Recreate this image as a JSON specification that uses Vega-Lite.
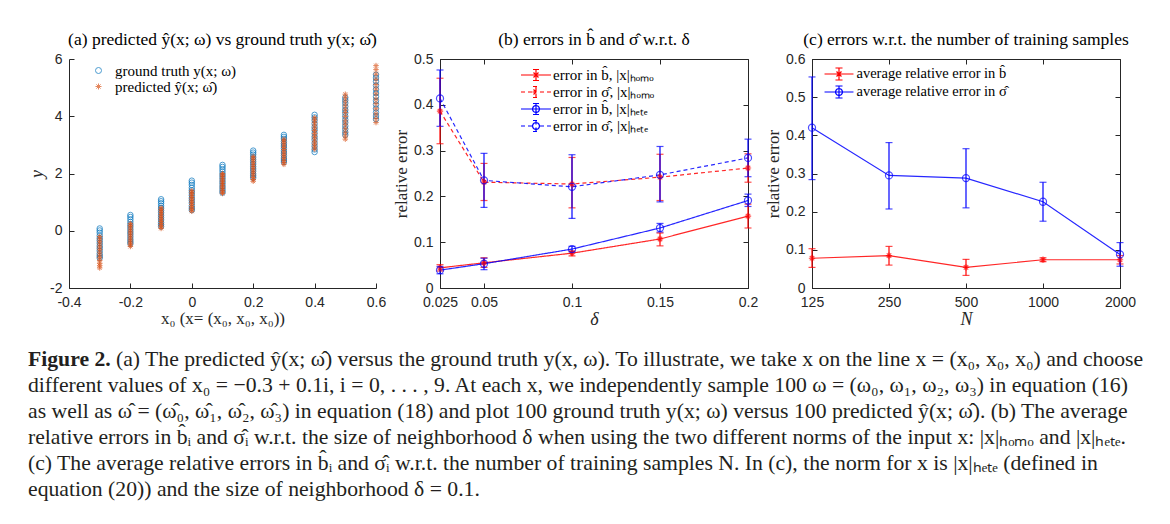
{
  "$schema": "https://vega.github.io/schema/vega-lite/v6.json",
  "background": "white",
  "padding": {"left": 28, "top": 30, "right": 5, "bottom": 0},
  "datasets": {
    "sc": [
      {"x": -0.3, "s": "g", "y": [0.08, 0.01, -0.07, -0.17, -0.26, -0.34, -0.43, -0.53, -0.61, -0.70, -0.80, -0.88, -0.95]},
      {"x": -0.2, "s": "g", "y": [0.55, 0.48, 0.40, 0.31, 0.22, 0.14, 0.05, -0.04, -0.12, -0.21, -0.30, -0.38, -0.45]},
      {"x": -0.1, "s": "g", "y": [1.10, 1.03, 0.96, 0.87, 0.79, 0.71, 0.63, 0.54, 0.46, 0.38, 0.29, 0.22, 0.15]},
      {"x": 0, "s": "g", "y": [1.75, 1.68, 1.60, 1.50, 1.41, 1.33, 1.24, 1.14, 1.06, 0.97, 0.87, 0.79, 0.72]},
      {"x": 0.1, "s": "g", "y": [2.30, 2.23, 2.15, 2.07, 1.98, 1.90, 1.82, 1.73, 1.65, 1.56, 1.48, 1.40, 1.33]},
      {"x": 0.2, "s": "g", "y": [2.80, 2.73, 2.66, 2.57, 2.49, 2.41, 2.33, 2.24, 2.16, 2.08, 1.99, 1.92, 1.85]},
      {"x": 0.3, "s": "g", "y": [3.35, 3.28, 3.21, 3.12, 3.04, 2.96, 2.88, 2.79, 2.71, 2.63, 2.54, 2.47, 2.40]},
      {"x": 0.4, "s": "g", "y": [4.05, 3.96, 3.86, 3.74, 3.62, 3.52, 3.40, 3.28, 3.18, 3.06, 2.95, 2.84, 2.75]},
      {"x": 0.5, "s": "g", "y": [4.65, 4.56, 4.46, 4.34, 4.22, 4.12, 4.00, 3.88, 3.78, 3.66, 3.55, 3.44, 3.35]},
      {"x": 0.6, "s": "g", "y": [5.45, 5.34, 5.22, 5.08, 4.94, 4.81, 4.68, 4.54, 4.41, 4.27, 4.13, 4.01, 3.90]},
      {"x": -0.3, "s": "p", "y": [-0.20, -0.28, -0.37, -0.46, -0.56, -0.65, -0.75, -0.85, -0.94, -1.04, -1.14, -1.22, -1.30]},
      {"x": -0.2, "s": "p", "y": [0.25, 0.19, 0.13, 0.06, -0.01, -0.08, -0.15, -0.22, -0.29, -0.36, -0.43, -0.49, -0.55]},
      {"x": -0.1, "s": "p", "y": [0.80, 0.75, 0.69, 0.63, 0.56, 0.51, 0.44, 0.38, 0.32, 0.25, 0.19, 0.13, 0.08]},
      {"x": 0, "s": "p", "y": [1.40, 1.35, 1.29, 1.23, 1.16, 1.11, 1.04, 0.98, 0.92, 0.85, 0.79, 0.73, 0.68]},
      {"x": 0.1, "s": "p", "y": [2.00, 1.95, 1.90, 1.83, 1.77, 1.71, 1.65, 1.59, 1.53, 1.47, 1.41, 1.35, 1.30]},
      {"x": 0.2, "s": "p", "y": [2.60, 2.54, 2.47, 2.39, 2.31, 2.24, 2.17, 2.09, 2.02, 1.94, 1.86, 1.79, 1.73]},
      {"x": 0.3, "s": "p", "y": [3.20, 3.14, 3.07, 2.99, 2.91, 2.84, 2.76, 2.68, 2.61, 2.53, 2.45, 2.38, 2.32]},
      {"x": 0.4, "s": "p", "y": [3.95, 3.87, 3.79, 3.69, 3.59, 3.50, 3.40, 3.30, 3.21, 3.11, 3.02, 2.93, 2.85]},
      {"x": 0.5, "s": "p", "y": [4.77, 4.66, 4.53, 4.39, 4.25, 4.13, 3.99, 3.84, 3.72, 3.58, 3.44, 3.31, 3.20]},
      {"x": 0.6, "s": "p", "y": [5.77, 5.63, 5.47, 5.29, 5.11, 4.95, 4.78, 4.60, 4.44, 4.26, 4.08, 3.92, 3.78]}
    ],
    "pb": [
      {"d": 0.025, "s": "bh", "m": 0.044, "lo": 0.037, "hi": 0.051},
      {"d": 0.05, "s": "bh", "m": 0.055, "lo": 0.045, "hi": 0.066},
      {"d": 0.1, "s": "bh", "m": 0.076, "lo": 0.070, "hi": 0.081},
      {"d": 0.15, "s": "bh", "m": 0.107, "lo": 0.092, "hi": 0.120},
      {"d": 0.2, "s": "bh", "m": 0.157, "lo": 0.131, "hi": 0.183},
      {"d": 0.025, "s": "sh", "m": 0.386, "lo": 0.315, "hi": 0.458},
      {"d": 0.05, "s": "sh", "m": 0.231, "lo": 0.191, "hi": 0.272},
      {"d": 0.1, "s": "sh", "m": 0.227, "lo": 0.175, "hi": 0.285},
      {"d": 0.15, "s": "sh", "m": 0.242, "lo": 0.191, "hi": 0.292},
      {"d": 0.2, "s": "sh", "m": 0.262, "lo": 0.231, "hi": 0.293},
      {"d": 0.025, "s": "bt", "m": 0.039, "lo": 0.031, "hi": 0.047},
      {"d": 0.05, "s": "bt", "m": 0.053, "lo": 0.040, "hi": 0.065},
      {"d": 0.1, "s": "bt", "m": 0.085, "lo": 0.079, "hi": 0.091},
      {"d": 0.15, "s": "bt", "m": 0.131, "lo": 0.122, "hi": 0.141},
      {"d": 0.2, "s": "bt", "m": 0.191, "lo": 0.178, "hi": 0.205},
      {"d": 0.025, "s": "st", "m": 0.414, "lo": 0.353, "hi": 0.476},
      {"d": 0.05, "s": "st", "m": 0.235, "lo": 0.176, "hi": 0.294},
      {"d": 0.1, "s": "st", "m": 0.221, "lo": 0.152, "hi": 0.291},
      {"d": 0.15, "s": "st", "m": 0.247, "lo": 0.188, "hi": 0.309},
      {"d": 0.2, "s": "st", "m": 0.284, "lo": 0.243, "hi": 0.325}
    ],
    "pc": [
      {"n": 125, "s": "b", "m": 0.078, "lo": 0.054, "hi": 0.103},
      {"n": 250, "s": "b", "m": 0.085, "lo": 0.060, "hi": 0.109},
      {"n": 500, "s": "b", "m": 0.054, "lo": 0.033, "hi": 0.075},
      {"n": 1000, "s": "b", "m": 0.074, "lo": 0.069, "hi": 0.079},
      {"n": 2000, "s": "b", "m": 0.074, "lo": 0.063, "hi": 0.085},
      {"n": 125, "s": "g", "m": 0.420, "lo": 0.284, "hi": 0.553},
      {"n": 250, "s": "g", "m": 0.295, "lo": 0.207, "hi": 0.381},
      {"n": 500, "s": "g", "m": 0.288, "lo": 0.210, "hi": 0.365},
      {"n": 1000, "s": "g", "m": 0.226, "lo": 0.175, "hi": 0.277},
      {"n": 2000, "s": "g", "m": 0.088, "lo": 0.057, "hi": 0.119}
    ],
    "cap": [
      {"line": 1, "t": "(a) The predicted ŷ(x; ω̂) versus the ground truth y(x, ω). To illustrate, we take x on the line x = (x₀, x₀, x₀) and choose"},
      {"line": 2, "t": "different values of x₀ = −0.3 + 0.1i, i = 0, . . . , 9. At each x, we independently sample 100 ω = (ω₀, ω₁, ω₂, ω₃) in equation (16)"},
      {"line": 3, "t": "as well as ω̂ = (ω̂₀, ω̂₁, ω̂₂, ω̂₃) in equation (18) and plot 100 ground truth y(x; ω) versus 100 predicted ŷ(x; ω̂). (b) The average"},
      {"line": 4, "t": "relative errors in b̂ᵢ and σ̂ᵢ w.r.t. the size of neighborhood δ when using the two different norms of the input x: |x|ₕₒₘₒ and |x|ₕₑₜₑ."},
      {"line": 5, "t": "(c) The average relative errors in b̂ᵢ and σ̂ᵢ w.r.t. the number of training samples N. In (c), the norm for x is |x|ₕₑₜₑ (defined in"},
      {"line": 6, "t": "equation (20)) and the size of neighborhood δ = 0.1."}
    ]
  },
  "vconcat": [
    {
      "hconcat": [
        {
          "width": 307,
          "height": 229,
          "title": "(a) predicted ŷ(x; ω) vs ground truth y(x; ω̂)",
          "view": {"stroke": null},
          "data": {"name": "sc"},
          "transform": [{"flatten": ["y"]}],
          "mark": {"type": "point", "filled": false, "size": 30, "strokeWidth": 1},
          "encoding": {
            "x": {"field": "x", "type": "quantitative", "scale": {"domain": [-0.4, 0.6], "nice": false, "zero": false},
                  "axis": {"values": [-0.4, -0.2, 0, 0.2, 0.4, 0.6], "format": "~g", "title": "x₀ (x= (x₀, x₀, x₀))"}},
            "y": {"field": "y", "type": "quantitative", "scale": {"domain": [-2, 6], "nice": false, "zero": false},
                  "axis": {"values": [-2, 0, 2, 4, 6], "format": "~g", "title": "y", "titleFontStyle": "italic", "titleFontSize": 18}},
            "color": {"field": "s", "type": "nominal", "scale": {"domain": ["g", "p"], "range": ["#0072BD", "#D95319"]},
                      "legend": {"title": null, "orient": "none", "legendX": 22, "legendY": 4, "padding": 0, "symbolSize": 36, "symbolStrokeWidth": 1,
                                 "labelFont": "Liberation Serif", "labelFontSize": 15, "labelColor": "#000", "labelOffset": 9, "rowPadding": 0,
                                 "labelExpr": "datum.label == 'g' ? 'ground truth y(x; ω)' : 'predicted ŷ(x; ω̂)'"}},
            "shape": {"field": "s", "type": "nominal", "scale": {"domain": ["g", "p"], "range": ["circle", "M-1,0L1,0M0,-1L0,1M-0.7,-0.7L0.7,0.7M-0.7,0.7L0.7,-0.7"]}}
          }
        },
        {
          "width": 308,
          "height": 229,
          "title": "(b) errors in b̂ and σ̂ w.r.t. δ",
          "data": {"name": "pb"},
          "layer": [
            {
              "mark": {"type": "point", "filled": false, "opacity": 0},
              "encoding": {
                "x": {"field": "d", "type": "quantitative", "title": "δ", "scale": {"domain": [0.025, 0.2], "nice": false, "zero": false},
                      "axis": {"orient": "top", "labels": false, "title": null, "domain": false, "values": [0.025, 0.05, 0.1, 0.15, 0.2]}},
                "y": {"field": "m", "type": "quantitative", "title": "relative error", "scale": {"domain": [0, 0.5], "nice": false},
                      "axis": {"orient": "right", "labels": false, "title": null, "domain": false, "values": [0, 0.1, 0.2, 0.3, 0.4, 0.5]}},
                "color": {"field": "s", "type": "nominal", "scale": {"domain": ["bh", "sh", "bt", "st"], "range": ["#ff0000", "#ff0000", "#0000ff", "#0000ff"]},
                           "legend": {"title": null, "orient": "none", "legendX": 87, "legendY": 7, "padding": 0, "symbolSize": 256, "symbolStrokeWidth": 1.2, "symbolOpacity": 1, "symbolFillColor": "transparent",
                                      "labelFont": "Liberation Serif", "labelFontSize": 15, "labelColor": "#000", "labelOffset": 8, "rowPadding": -6.2,
                                      "labelExpr": "datum.label == 'bh' ? 'error in b̂, |x|ₕₒₘₒ' : datum.label == 'sh' ? 'error in σ̂, |x|ₕₒₘₒ' : datum.label == 'bt' ? 'error in b̂, |x|ₕₑₜₑ' : 'error in σ̂, |x|ₕₑₜₑ'"}},
                "shape": {"field": "s", "type": "nominal",
                          "scale": {"domain": ["bh", "sh", "bt", "st"], "range": [
                            "M-1.875,0L1.875,0M0,-0.69L0,0.69M-0.375,-0.69L0.375,-0.69M-0.375,0.69L0.375,0.69M-0.44,0L0.44,0M0,-0.44L0,0.44M-0.31,-0.31L0.31,0.31M-0.31,0.31L0.31,-0.31",
                            "M-1.875,0L-1.375,0M-1,0L-0.5,0M0.5,0L1,0M1.375,0L1.875,0M0,-0.69L0,0.69M-0.375,-0.69L0.375,-0.69M-0.375,0.69L0.375,0.69M-0.44,0L0.44,0M0,-0.44L0,0.44M-0.31,-0.31L0.31,0.31M-0.31,0.31L0.31,-0.31",
                            "M-1.875,0L1.875,0M0,-0.69L0,0.69M-0.375,-0.69L0.375,-0.69M-0.375,0.69L0.375,0.69M0.44,0L0.381,0.22M0.381,0.22L0.22,0.381M0.22,0.381L0,0.44M0,0.44L-0.22,0.381M-0.22,0.381L-0.381,0.22M-0.381,0.22L-0.44,0M-0.44,0L-0.381,-0.22M-0.381,-0.22L-0.22,-0.381M-0.22,-0.381L0,-0.44M0,-0.44L0.22,-0.381M0.22,-0.381L0.381,-0.22M0.381,-0.22L0.44,0",
                            "M-1.875,0L-1.375,0M-1,0L-0.5,0M0.5,0L1,0M1.375,0L1.875,0M0,-0.69L0,0.69M-0.375,-0.69L0.375,-0.69M-0.375,0.69L0.375,0.69M0.44,0L0.381,0.22M0.381,0.22L0.22,0.381M0.22,0.381L0,0.44M0,0.44L-0.22,0.381M-0.22,0.381L-0.381,0.22M-0.381,0.22L-0.44,0M-0.44,0L-0.381,-0.22M-0.381,-0.22L-0.22,-0.381M-0.22,-0.381L0,-0.44M0,-0.44L0.22,-0.381M0.22,-0.381L0.381,-0.22M0.381,-0.22L0.44,0"
                          ]},
                          "legend": {"title": null, "orient": "none", "legendX": 87, "legendY": 7, "padding": 0, "symbolSize": 256, "symbolStrokeWidth": 1.2, "symbolOpacity": 1, "symbolFillColor": "transparent",
                                      "labelFont": "Liberation Serif", "labelFontSize": 15, "labelColor": "#000", "labelOffset": 8, "rowPadding": -6.2,
                                      "labelExpr": "datum.label == 'bh' ? 'error in b̂, |x|ₕₒₘₒ' : datum.label == 'sh' ? 'error in σ̂, |x|ₕₒₘₒ' : datum.label == 'bt' ? 'error in b̂, |x|ₕₑₜₑ' : 'error in σ̂, |x|ₕₑₜₑ'"}}
              }
            },
            {
              "mark": {"type": "line", "strokeWidth": 1.2, "opacity": 0.85},
              "encoding": {
                "x": {"field": "d", "type": "quantitative", "title": "δ",
                      "axis": {"values": [0.025, 0.05, 0.1, 0.15, 0.2], "format": "~g", "titleFontStyle": "italic", "titleFontSize": 18}},
                "y": {"field": "m", "type": "quantitative", "title": "relative error",
                      "axis": {"values": [0, 0.1, 0.2, 0.3, 0.4, 0.5], "format": "~g"}},
                "color": {"field": "s", "type": "nominal", "legend": null},
                "strokeDash": {"field": "s", "type": "nominal", "scale": {"domain": ["bh", "sh", "bt", "st"], "range": [[1, 0], [4, 3], [1, 0], [4, 3]]}, "legend": null}
              }
            },
            {
              "mark": {"type": "errorbar", "ticks": {"size": 7}, "thickness": 1.2},
              "encoding": {
                "x": {"field": "d", "type": "quantitative", "title": "δ", "axis": null},
                "y": {"field": "lo", "type": "quantitative", "title": "relative error", "axis": null},
                "y2": {"field": "hi"},
                "color": {"field": "s", "type": "nominal", "legend": null}
              }
            },
            {
              "transform": [{"filter": "datum.s == 'bh' || datum.s == 'sh'"}],
              "mark": {"type": "point", "shape": "M-1,0L1,0M0,-1L0,1M-0.7,-0.7L0.7,0.7M-0.7,0.7L0.7,-0.7", "filled": false, "size": 40, "color": "#ff0000", "strokeWidth": 1.2},
              "encoding": {
                "x": {"field": "d", "type": "quantitative", "title": "δ", "axis": null},
                "y": {"field": "m", "type": "quantitative", "title": "relative error", "axis": null}
              }
            },
            {
              "transform": [{"filter": "datum.s == 'bt' || datum.s == 'st'"}],
              "mark": {"type": "point", "shape": "circle", "filled": false, "size": 50, "color": "#0000ff", "strokeWidth": 1.2},
              "encoding": {
                "x": {"field": "d", "type": "quantitative", "title": "δ", "axis": null},
                "y": {"field": "m", "type": "quantitative", "title": "relative error", "axis": null}
              }
            }
          ],
          "resolve": {"axis": {"x": "independent", "y": "independent"}}
        },
        {
          "width": 308,
          "height": 229,
          "title": "(c) errors w.r.t. the number of training samples",
          "data": {"name": "pc"},
          "layer": [
            {
              "mark": {"type": "point", "filled": false, "opacity": 0},
              "encoding": {
                "x": {"field": "n", "type": "quantitative", "title": "N", "scale": {"type": "log", "base": 2, "domain": [125, 2000], "nice": false},
                      "axis": {"orient": "top", "labels": false, "title": null, "domain": false, "values": [125, 250, 500, 1000, 2000]}},
                "y": {"field": "m", "type": "quantitative", "title": "relative error", "scale": {"domain": [0, 0.6], "nice": false},
                      "axis": {"orient": "right", "labels": false, "title": null, "domain": false, "values": [0, 0.1, 0.2, 0.3, 0.4, 0.5, 0.6]}},
                "color": {"field": "s", "type": "nominal", "scale": {"domain": ["b", "g"], "range": ["#ff0000", "#0000ff"]},
                           "legend": {"title": null, "orient": "none", "legendX": 18, "legendY": 6, "padding": 0, "symbolSize": 256, "symbolStrokeWidth": 1.2, "symbolOpacity": 1, "symbolFillColor": "transparent",
                                      "labelFont": "Liberation Serif", "labelFontSize": 14.5, "labelColor": "#000", "labelOffset": 8.5, "rowPadding": -9,
                                      "labelExpr": "datum.label == 'b' ? 'average relative error in b̂' : 'average relative error in σ̂'"}},
                "shape": {"field": "s", "type": "nominal",
                          "scale": {"domain": ["b", "g"], "range": [
                            "M-1.81,0L1.81,0M0,-0.75L0,0.75M-0.44,-0.75L0.44,-0.75M-0.44,0.75L0.44,0.75M-0.44,0L0.44,0M0,-0.44L0,0.44M-0.31,-0.31L0.31,0.31M-0.31,0.31L0.31,-0.31",
                            "M-1.81,0L1.81,0M0,-0.75L0,0.75M-0.44,-0.75L0.44,-0.75M-0.44,0.75L0.44,0.75M0.44,0L0.381,0.22M0.381,0.22L0.22,0.381M0.22,0.381L0,0.44M0,0.44L-0.22,0.381M-0.22,0.381L-0.381,0.22M-0.381,0.22L-0.44,0M-0.44,0L-0.381,-0.22M-0.381,-0.22L-0.22,-0.381M-0.22,-0.381L0,-0.44M0,-0.44L0.22,-0.381M0.22,-0.381L0.381,-0.22M0.381,-0.22L0.44,0"
                          ]},
                          "legend": {"title": null, "orient": "none", "legendX": 18, "legendY": 6, "padding": 0, "symbolSize": 256, "symbolStrokeWidth": 1.2, "symbolOpacity": 1, "symbolFillColor": "transparent",
                                      "labelFont": "Liberation Serif", "labelFontSize": 14.5, "labelColor": "#000", "labelOffset": 8.5, "rowPadding": -9,
                                      "labelExpr": "datum.label == 'b' ? 'average relative error in b̂' : 'average relative error in σ̂'"}}
              }
            },
            {
              "mark": {"type": "line", "strokeWidth": 1.2, "opacity": 0.85},
              "encoding": {
                "x": {"field": "n", "type": "quantitative", "title": "N",
                      "axis": {"values": [125, 250, 500, 1000, 2000], "format": "d", "titleFontStyle": "italic", "titleFontSize": 18}},
                "y": {"field": "m", "type": "quantitative", "title": "relative error",
                      "axis": {"values": [0, 0.1, 0.2, 0.3, 0.4, 0.5, 0.6], "format": "~g"}},
                "color": {"field": "s", "type": "nominal", "legend": null}
              }
            },
            {
              "mark": {"type": "errorbar", "ticks": {"size": 7}, "thickness": 1.2},
              "encoding": {
                "x": {"field": "n", "type": "quantitative", "title": "N", "axis": null},
                "y": {"field": "lo", "type": "quantitative", "title": "relative error", "axis": null},
                "y2": {"field": "hi"},
                "color": {"field": "s", "type": "nominal", "legend": null}
              }
            },
            {
              "transform": [{"filter": "datum.s == 'b'"}],
              "mark": {"type": "point", "shape": "M-1,0L1,0M0,-1L0,1M-0.7,-0.7L0.7,0.7M-0.7,0.7L0.7,-0.7", "filled": false, "size": 40, "color": "#ff0000", "strokeWidth": 1.2},
              "encoding": {
                "x": {"field": "n", "type": "quantitative", "title": "N", "axis": null},
                "y": {"field": "m", "type": "quantitative", "title": "relative error", "axis": null}
              }
            },
            {
              "transform": [{"filter": "datum.s == 'g'"}],
              "mark": {"type": "point", "shape": "circle", "filled": false, "size": 50, "color": "#0000ff", "strokeWidth": 1.2},
              "encoding": {
                "x": {"field": "n", "type": "quantitative", "title": "N", "axis": null},
                "y": {"field": "m", "type": "quantitative", "title": "relative error", "axis": null}
              }
            }
          ],
          "resolve": {"axis": {"x": "independent", "y": "independent"}}
        }
      ],
      "spacing": 64,
      "bounds": "flush",
      "resolve": {
        "scale": {"color": "independent", "shape": "independent", "stroke": "independent", "strokeDash": "independent"},
        "legend": {"color": "independent", "shape": "independent", "stroke": "independent", "strokeDash": "independent"}
      }
    },
    {
      "width": 1000,
      "height": 156,
      "view": {"stroke": null},
      "data": {"name": "cap"},
      "encoding": {
        "x": {"datum": 0, "type": "quantitative", "scale": {"domain": [0, 1]}, "axis": null},
        "y": {"field": "line", "type": "ordinal", "axis": null, "scale": {"domain": [1, 2, 3, 4, 5, 6], "paddingInner": 0, "paddingOuter": 0}}
      },
      "layer": [
        {
          "transform": [{"filter": "datum.line > 1"}],
          "mark": {"type": "text", "align": "left", "baseline": "middle", "font": "Liberation Serif", "fontSize": 21.7, "color": "#231f20", "dx": -41},
          "encoding": {"text": {"field": "t"}}
        },
        {
          "transform": [{"filter": "datum.line == 1"}],
          "mark": {"type": "text", "align": "left", "baseline": "middle", "font": "Liberation Serif", "fontSize": 21.7, "color": "#231f20", "dx": 47},
          "encoding": {"text": {"field": "t"}}
        },
        {
          "transform": [{"filter": "datum.line == 1"}],
          "mark": {"type": "text", "align": "left", "baseline": "middle", "font": "Liberation Serif", "fontSize": 21.7, "fontWeight": "bold", "color": "#231f20", "dx": -41},
          "encoding": {"text": {"value": "Figure 2."}}
        }
      ]
    }
  ],
  "spacing": 17,
  "config": {
    "view": {"stroke": "#262626", "strokeWidth": 1},
    "axis": {
      "labelFont": "Liberation Sans", "labelFontSize": 14, "labelColor": "#262626",
      "domainColor": "#262626", "tickColor": "#262626", "tickSize": -5, "labelPadding": 12,
      "labelFlush": false, "labelOverlap": false,
      "titleFont": "Liberation Serif", "titleFontSize": 17, "titleFontWeight": "normal", "titleColor": "#262626",
      "grid": false
    },
    "axisX": {"titlePadding": 1},
    "axisY": {"titlePadding": 3},
    "title": {"font": "Liberation Serif", "fontSize": 17.5, "fontWeight": "normal", "color": "#000", "offset": 4},
    "locale": {"number": {"decimal": ".", "thousands": ",", "grouping": [3], "currency": ["$", ""], "minus": "-"}}
  }
}
